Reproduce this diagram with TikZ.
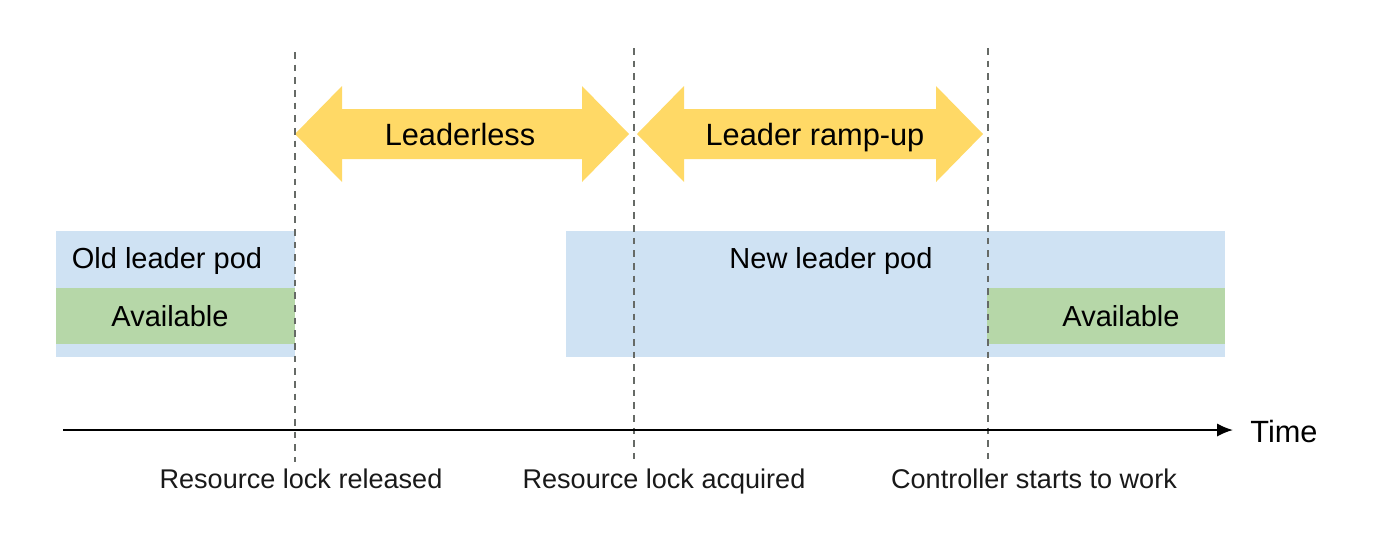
\documentclass[tikz,border=0pt]{standalone}
\usepackage{fontspec}
\setmainfont{Liberation Sans}
\usetikzlibrary{positioning, arrows.meta}
\definecolor{podblue}{HTML}{CFE2F3}
\definecolor{availgreen}{HTML}{B6D7A8}
\definecolor{phaseyellow}{HTML}{FFD966}
\definecolor{markgrey}{HTML}{666A66}
\tikzset{>={Latex[length=9pt,width=7.5pt]}}
\tikzset{
  podlabel/.style={anchor=base, font=\fontsize{16.5}{19}\selectfont},
  phaselabel/.style={anchor=base, font=\fontsize{17.5}{20}\selectfont},
  eventlabel/.style={anchor=base, font=\fontsize{15.4}{17}\selectfont, text=black!90},
  eventline/.style={dash pattern=on 3.8pt off 3.4pt, draw=markgrey, line width=1pt},
}

\begin{document}
\begin{tikzpicture}[x=0.02cm, y=-0.02cm]
  \useasboundingbox (0,0) rectangle (1400,535);
  % pod bars
  \fill[podblue] (56,231) rectangle (295,357);
  \fill[availgreen] (56,288) rectangle (295,344);
  \fill[podblue] (566,231) rectangle (1225,357);
  \fill[availgreen] (987,288) rectangle (1225,344);
  \node[podlabel] (oldpod) at (167,268) {Old leader pod};
  \node[podlabel] (oldavail) at (170,326) {Available};
  \node[podlabel] (newpod) at (831,268) {New leader pod};
  \node[podlabel] (newavail) at (1121,326) {Available};
  % phase arrows
  \foreach \a/\b in {295/629, 637/983}
    \fill[phaseyellow] (\a,134) -- ({\a+47},86) -- ({\a+47},109) -- ({\b-47},109)
      -- ({\b-47},86) -- (\b,134) -- ({\b-47},182) -- ({\b-47},159)
      -- ({\a+47},159) -- ({\a+47},182) -- cycle;
  \node[phaselabel] (leaderless) at (460,145) {Leaderless};
  \node[phaselabel] (rampup) at (815,145) {Leader ramp-up};
  % event markers
  \coordinate (reltop) at (295,52);   \coordinate (relbot) at (295,462);
  \coordinate (acqtop) at (634,48);   \coordinate (acqbot) at (634,462);
  \coordinate (ctltop) at (988,48);   \coordinate (ctlbot) at (988,462);
  \draw[eventline] (reltop) -- (relbot);
  \draw[eventline] (acqtop) -- (acqbot);
  \draw[eventline] (ctltop) -- (ctlbot);
  % time axis
  \coordinate (t0) at (63,430);
  \coordinate (t1) at (1233,430);
  \draw[->, line width=1.1pt] (t0) -- (t1);
  \node[phaselabel, anchor=base west, inner sep=0pt] (time) at (1250,442) {Time};
  \node[eventlabel] (released) at (301,488) {Resource lock released};
  \node[eventlabel] (acquired) at (664,488) {Resource lock acquired};
  \node[eventlabel] (ctlstart) at (1034,488) {Controller starts to work};
\end{tikzpicture}
\end{document}
